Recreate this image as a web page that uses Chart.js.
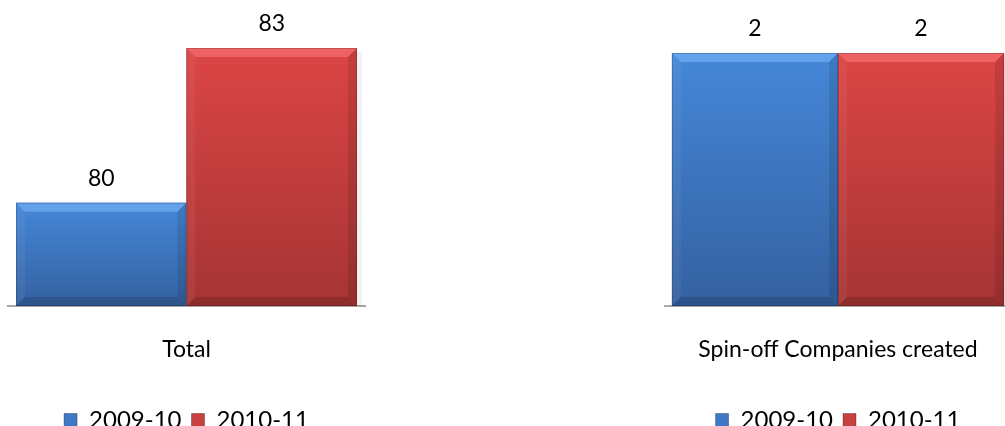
<!DOCTYPE html>
<html><head><meta charset="utf-8">
<script src="https://cdn.jsdelivr.net/npm/chart.js@4"></script>
<style>
html,body{margin:0;padding:0;background:#fff;overflow:hidden;width:1005px;height:426px;position:relative;}
.box{position:absolute;top:0;width:380px;height:442px;}
</style></head><body>
<div class="box" style="left:0px"><canvas id="c1"></canvas></div>
<div class="box" style="left:650px"><canvas id="c2"></canvas></div>
<script>
// ---- data ----
const seriesNames = ['2009-10', '2010-11'];
const leftCategories = ['Total'];
const leftSeries2009 = [80];
const leftSeries2010 = [83];
const leftRange = [78, 83];
const rightCategories = ['Spin-off Companies created'];
const rightSeries2009 = [2];
const rightSeries2010 = [2];
const rightRange = [0, 2];

// ---- styles ----
const FONT = 'Lato, "Open Sans", sans-serif';
const palettes = [
  {solid:'#3f79c6', top:'#4587d8', bottom:'#3461a0', bevelTop:'rgba(130,190,255,0.5)'},
  {solid:'#c84040', top:'#dc4545', bottom:'#a63434', bevelTop:'rgba(255,130,130,0.5)'}
];

function poly(c, pts, fill){
  c.beginPath(); c.moveTo(pts[0][0], pts[0][1]);
  for (let k=1;k<pts.length;k++) c.lineTo(pts[k][0], pts[k][1]);
  c.closePath(); c.fillStyle = fill; c.fill();
}

const bevelPlugin = {
  id:'bevel',
  afterDatasetsDraw(chart){
    const c = chart.ctx;
    const area = chart.chartArea;
    chart.data.datasets.forEach((ds,i)=>{
      const meta = chart.getDatasetMeta(i);
      const pal = palettes[i];
      meta.data.forEach((bar, j)=>{
        const p = bar.getProps(['x','y','base','width'], true);
        const l = p.x - p.width/2, r = p.x + p.width/2;
        const t = Math.max(area.top, Math.min(p.y, p.base));
        const b = Math.min(area.bottom, Math.max(p.y, p.base));
        c.save();
        c.fillStyle = 'rgba(0,0,0,0.05)';
        c.fillRect(r, t+4, 5, b-t-4);
        const g = c.createLinearGradient(0, t, 0, b);
        g.addColorStop(0, pal.top); g.addColorStop(1, pal.bottom);
        c.fillStyle = g; c.fillRect(l, t, r-l, b-t);
        const e = 9;
        poly(c, [[l,t],[r,t],[r-e,t+e],[l+e,t+e]], pal.bevelTop);
        poly(c, [[l,t],[l+e,t+e],[l+e,b-e],[l,b]], 'rgba(255,255,255,0.05)');
        poly(c, [[r,t],[r,b],[r-e,b-e],[r-e,t+e]], 'rgba(0,0,0,0.10)');
        poly(c, [[l,b],[r,b],[r-e,b-e],[l+e,b-e]], 'rgba(0,0,0,0.14)');
        c.strokeStyle = 'rgba(0,0,0,0.18)'; c.lineWidth = 1;
        c.strokeRect(l+0.5, t+0.5, r-l-1, b-t-1);
        c.restore();
        // value label
        c.save();
        c.font = '23px ' + FONT;
        c.fillStyle = '#000';
        c.textAlign = 'center'; c.textBaseline = 'alphabetic';
        c.fillText(String(ds.data[j]), p.x, t - 17);
        c.restore();
      });
    });
  }
};

function makeChart(id, categories, s1, s2, range, pad, catPct){
  return new Chart(document.getElementById(id), {
    type:'bar',
    data:{
      labels: categories,
      datasets:[
        {label: seriesNames[0], data: s1, backgroundColor: palettes[0].solid, borderWidth:0},
        {label: seriesNames[1], data: s2, backgroundColor: palettes[1].solid, borderWidth:0}
      ]
    },
    options:{
      responsive:true, maintainAspectRatio:false, animation:false,
      devicePixelRatio:1,
      layout:{padding:{left:pad.left, right:pad.right, top:pad.top, bottom:0}},
      datasets:{bar:{categoryPercentage:catPct, barPercentage:1}},
      plugins:{
        tooltip:{enabled:false},
        legend:{
          position:'bottom',
          labels:{
            font:{family:FONT, size:24}, color:'#000',
            boxWidth:13, boxHeight:13, padding:10,
            generateLabels(chart){
              return chart.data.datasets.map((d,i)=>({
                text:d.label, fillStyle:palettes[i].solid, strokeStyle:'rgba(0,0,0,0.3)',
                lineWidth:1, hidden:false, datasetIndex:i
              }));
            }
          }
        }
      },
      scales:{
        x:{
          grid:{display:false},
          border:{display:true, color:'#a6a6a6', width:2},
          ticks:{font:{family:FONT, size:23}, color:'#000', padding:22},
          afterFit(scale){ scale.height = 92; }
        },
        y:{
          display:false, min:range[0], max:range[1]
        }
      }
    },
    plugins:[bevelPlugin]
  });
}

makeChart('c1', leftCategories, leftSeries2009, leftSeries2010, leftRange, {left:8, right:15, top:48}, 0.955);
makeChart('c2', rightCategories, rightSeries2009, rightSeries2010, rightRange, {left:15, right:19, top:53}, 0.96);
</script>
</body></html>
